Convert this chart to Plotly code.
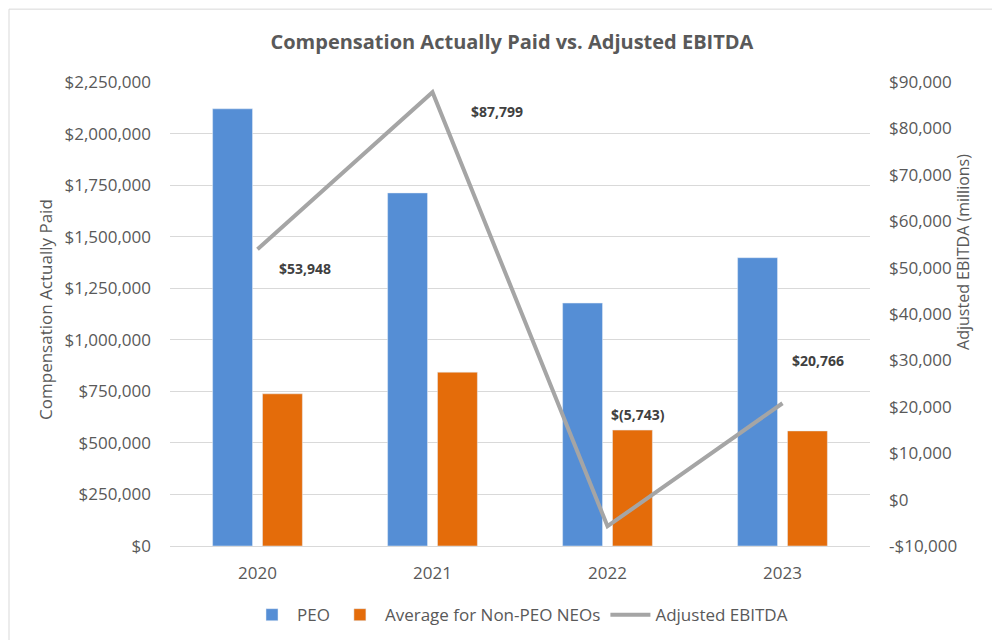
import plotly.graph_objects as go

# chart data
years = ["2020", "2021", "2022", "2023"]
peo_cap = [2120000, 1712000, 1178000, 1398000]
non_peo_cap = [738000, 843000, 562000, 558000]
adj_ebitda = [53948, 87799, -5743, 20766]
ebitda_labels = ["$53,948", "$87,799", "$(5,743)", "$20,766"]

left_ticks = [0, 250000, 500000, 750000, 1000000, 1250000, 1500000, 1750000, 2000000, 2250000]
left_tick_text = ["$0", "$250,000", "$500,000", "$750,000", "$1,000,000", "$1,250,000",
                  "$1,500,000", "$1,750,000", "$2,000,000", "$2,250,000"]
right_ticks = [-10000, 0, 10000, 20000, 30000, 40000, 50000, 60000, 70000, 80000, 90000]
right_tick_text = ["-$10,000", "$0", "$10,000", "$20,000", "$30,000", "$40,000",
                   "$50,000", "$60,000", "$70,000", "$80,000", "$90,000"]

# label offsets (px) for the EBITDA data labels
label_shift = [(47, -19), (64, -19), (30, 112), (35, 43)]

FONT = "Open Sans"
GREY = "#595959"

fig = go.Figure()
fig.add_trace(go.Bar(x=years, y=peo_cap, name="PEO", marker_color="#558ED5"))
fig.add_trace(go.Bar(x=years, y=non_peo_cap, name="Average for Non-PEO NEOs",
                     marker_color="#E46C0A"))
fig.add_trace(go.Scatter(x=years, y=adj_ebitda, name="Adjusted EBITDA", yaxis="y2",
                         mode="lines", line=dict(color="#A5A5A5", width=4)))

# category axis: annotations take the category index
for i, (val, txt, (dx, dy)) in enumerate(zip(adj_ebitda, ebitda_labels, label_shift)):
    fig.add_annotation(x=i, y=val, xref="x", yref="y2", text="<b>" + txt + "</b>",
                       showarrow=False, xshift=dx, yshift=dy,
                       font=dict(family=FONT, size=14, color="#404040"))

# axis titles (Excel places them off-centre, so draw them as annotations)
fig.add_annotation(x=-0.177, y=0.509, xref="paper", yref="paper", textangle=-90,
                   xanchor="center", yanchor="middle",
                   text="Compensation Actually Paid", showarrow=False,
                   font=dict(family=FONT, size=17, color=GREY))
fig.add_annotation(x=1.133, y=0.634, xref="paper", yref="paper", textangle=-90,
                   xanchor="center", yanchor="middle",
                   text="Adjusted EBITDA (millions)", showarrow=False,
                   font=dict(family=FONT, size=16, color=GREY))

# page body adds ~8px, so the figure is 992x632
fig.update_layout(
    width=992, height=632,
    paper_bgcolor="white", plot_bgcolor="white",
    margin=dict(l=162, r=130, t=74, b=94, autoexpand=False),
    title=dict(text="<b>Compensation Actually Paid vs. Adjusted EBITDA</b>",
               x=0.508, xanchor="center", y=0.946, yanchor="middle",
               font=dict(family=FONT, size=20, color=GREY)),
    font=dict(family=FONT, size=17, color=GREY),
    barmode="group", bargap=0.43, bargroupgap=0.2,
    xaxis=dict(type="category", range=[-0.5, 3.5], showgrid=False, showline=True,
               linecolor="#D9D9D9", linewidth=1, ticks="", automargin=False,
               tickfont=dict(size=17, color=GREY), ticklabelstandoff=12),
    yaxis=dict(range=[0, 2250000], tickvals=left_ticks, ticktext=left_tick_text,
               showgrid=True, gridcolor="#D9D9D9", zeroline=False, automargin=False,
               tickfont=dict(size=17, color=GREY), ticks="", ticklabelstandoff=18),
    yaxis2=dict(range=[-10000, 90000], tickvals=right_ticks, ticktext=right_tick_text,
                overlaying="y", side="right", showgrid=False, zeroline=False,
                automargin=False, tickfont=dict(size=17, color=GREY), ticks="",
                ticklabelstandoff=18),
    legend=dict(orientation="h", x=0.5, xanchor="center", y=-0.149, yanchor="middle",
                font=dict(size=17, color=GREY), traceorder="normal", itemwidth=40),
    shapes=[dict(type="rect", xref="paper", yref="paper", x0=-0.2300, x1=1.1757,
                 y0=-0.25, y1=1.157, line=dict(color="#D9D9D9", width=1))],
)

fig.write_html("out.html")
